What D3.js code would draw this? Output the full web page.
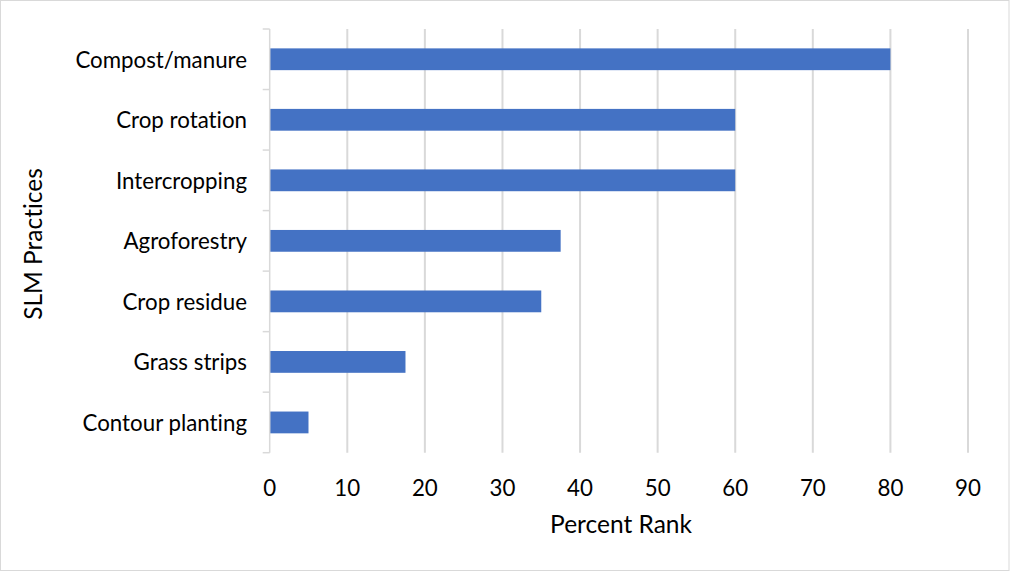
<!DOCTYPE html>
<html><head><meta charset="utf-8">
<script src="https://cdn.jsdelivr.net/npm/d3@7"></script>
<style>body{margin:0;background:#fff}svg{display:block}text{font-family:Lato,"Open Sans",sans-serif;fill:#000;font-variant-ligatures:none;font-feature-settings:"liga" 0,"clig" 0}</style>
</head><body>
<script>
const categories = ["Compost/manure","Crop rotation","Intercropping","Agroforestry","Crop residue","Grass strips","Contour planting"];
const values = [80, 60, 60, 37.5, 35, 17.5, 5];
const xTicks = [0,10,20,30,40,50,60,70,80,90];
const xTitle = "Percent Rank";
const yTitle = "SLM Practices";

const W = 1010, H = 571;
const m = {left: 269.7, right: W - 968, top: 29, bottom: H - 452.7};
const svg = d3.select("body").append("svg").attr("width", W).attr("height", H);
svg.append("rect").attr("x",0.5).attr("y",0.5).attr("width",W-1.5).attr("height",H-1).attr("fill","#fff").attr("stroke","#d9d9d9");

const x = d3.scaleLinear().domain([0,90]).range([m.left, W - m.right]);
const y = d3.scaleBand().domain(categories).range([m.top, H - m.bottom]).paddingInner(0).paddingOuter(0);

// gridlines
svg.append("g").selectAll("line").data(xTicks.slice(1)).join("line")
  .attr("x1", d => x(d)).attr("x2", d => x(d))
  .attr("y1", m.top).attr("y2", H - m.bottom)
  .attr("stroke", "#d9d9d9").attr("stroke-width", 2);

// bars
const bh = y.bandwidth() * 0.36;
svg.append("g").selectAll("rect").data(categories).join("rect")
  .attr("x", x(0))
  .attr("y", (d) => y(d) + y.bandwidth()/2 - bh/2)
  .attr("width", (d,i) => x(values[i]) - x(0))
  .attr("height", bh)
  .attr("fill", "#4472c4");

// y axis line and ticks
const yAx = svg.append("g");
yAx.append("line").attr("x1", x(0)).attr("x2", x(0)).attr("y1", m.top).attr("y2", H - m.bottom)
  .attr("stroke", "#d9d9d9").attr("stroke-width", 1.5);
const bounds = categories.map(c => y(c)).concat([H - m.bottom]);
yAx.selectAll("line.t").data(bounds).join("line").attr("class","t")
  .attr("x1", x(0) - 7).attr("x2", x(0)).attr("y1", d => d).attr("y2", d => d)
  .attr("stroke", "#d9d9d9").attr("stroke-width", 1.5);
yAx.selectAll("text").data(categories).join("text")
  .attr("x", 247).attr("y", d => y(d) + y.bandwidth()/2)
  .attr("text-anchor","end").attr("dominant-baseline","central")
  .attr("font-size", 22.3).text(d => d);

// x tick labels
svg.append("g").selectAll("text").data(xTicks).join("text")
  .attr("x", d => x(d)).attr("y", 487)
  .attr("text-anchor","middle").attr("dominant-baseline","central")
  .attr("font-size", 22.3).text(d => d);

// titles
svg.append("text").attr("x", 621).attr("y", 523).attr("text-anchor","middle")
  .attr("dominant-baseline","central").attr("font-size", 24.5).text(xTitle);
svg.append("text").attr("transform","translate(32,244) rotate(-90)").attr("text-anchor","middle")
  .attr("dominant-baseline","central").attr("font-size", 24.5).text(yTitle);
</script>
</body></html>
